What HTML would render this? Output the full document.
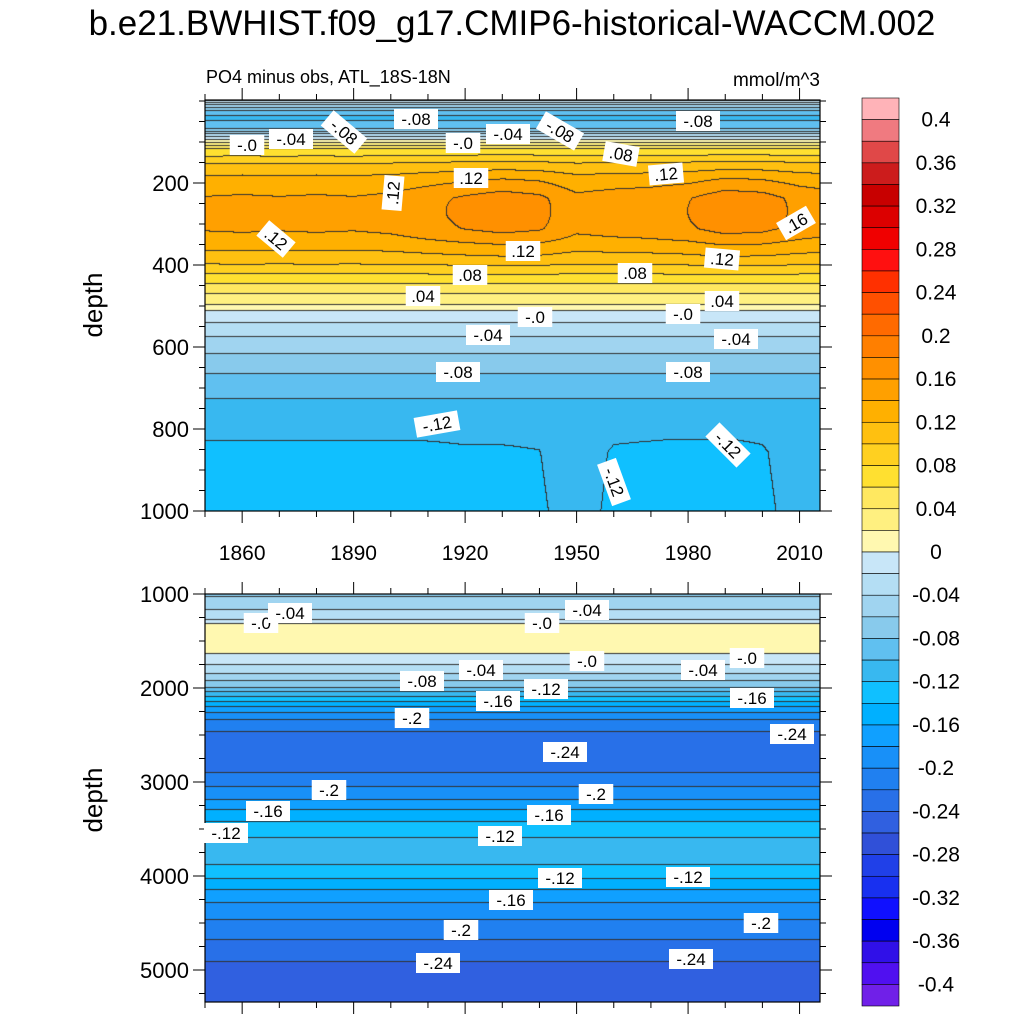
<!DOCTYPE html>
<html><head><meta charset="utf-8">
<style>
body{margin:0;background:#fff;width:1024px;height:1024px;overflow:hidden;font-family:"Liberation Sans",sans-serif;}
#root{position:relative;width:1024px;height:1024px;}
canvas{position:absolute;}
svg{position:absolute;left:0;top:0;}
</style></head>
<body>
<div id="root">
<canvas id="c1" width="615" height="411" style="left:205px;top:100px"></canvas>
<canvas id="c2" width="615" height="408" style="left:205px;top:594px"></canvas>
<svg id="svg" width="1024" height="1024"></svg>
</div>
<script>
// ---- data ----
const colors = ["#ffb3b8","#f07a80","#e04848","#cc1c1c","#c80000","#dc0000","#f00000","#ff1010","#ff3000","#ff5000","#ff6a00","#ff7f00","#ff9000","#ffa000","#ffb000","#ffc010","#ffd020","#ffe030","#ffe860","#fff080","#fff8b0","#c8e6f8","#b4def4","#a0d4f0","#88caec","#60c0f0","#38b8f0","#10c0ff","#00b0ff","#10a0ff","#1890f8","#2080f0","#2870e8","#3060e0","#3050d8","#2040e8","#1830f0","#1010ff","#0000f0","#3010e8","#5010f0","#7020e8"];
const cbLabels = ["0.4","0.36","0.32","0.28","0.24","0.2","0.16","0.12","0.08","0.04","0","-0.04","-0.08","-0.12","-0.16","-0.2","-0.24","-0.28","-0.32","-0.36","-0.4"];
const yearTicks = [1860,1890,1920,1950,1980,2010];
const topDepthTicks = [200,400,600,800,1000];
const botDepthTicks = [1000,2000,3000,4000,5000];
// upper panel profile
const topDepths = [0,10,30,45,70,95,120,155,190,240,315,340,390,425,460,500,515,560,595,645,680,730,780,830,1000];
const topValues = [0.005,-0.03,-0.09,-0.105,-0.085,-0.005,0.06,0.1,0.125,0.145,0.145,0.135,0.11,0.08,0.05,0.02,0.0,-0.03,-0.05,-0.07,-0.085,-0.1,-0.11,-0.116,-0.118];
const anomYears = [1850,1860,1870,1880,1890,1900,1910,1920,1930,1940,1950,1960,1970,1980,1990,2000,2010,2015];
const coreAnom = [-0.004,-0.002,-0.004,-0.002,-0.004,0.0,0.01,0.02,0.028,0.022,0.0,0.005,0.008,0.015,0.03,0.026,0.01,0.006];
const deepAnom = [-0.006,-0.006,-0.006,-0.006,-0.006,-0.006,-0.006,-0.005,-0.005,-0.004,0.004,-0.005,-0.006,-0.007,-0.007,-0.005,0.003,0.004];
// lower panel profile
const botDepths = [1000,1170,1280,1330,1500,1600,1700,1810,1970,2070,2230,2340,2500,2700,2870,2980,3190,3350,3510,3720,3940,4150,4360,4570,4790,5050,5360];
const botValues = [-0.065,-0.04,-0.02,0.005,0.015,0.005,-0.01,-0.03,-0.07,-0.11,-0.17,-0.2,-0.225,-0.232,-0.225,-0.21,-0.18,-0.15,-0.13,-0.105,-0.125,-0.16,-0.19,-0.21,-0.23,-0.25,-0.258];

// ---- scales ----
const X0=205,X1=820,Y0min=1850,Y1max=2015.5;
const xs = y => X0 + (y - Y0min)/(Y1max-Y0min)*(X1-X0);
const ysTop = d => 101 + d*0.41;
const ysBot = d => 594 + (d-1000)*0.094;
function interp(xa,ya,x){
  if(x<=xa[0]) return ya[0];
  for(let i=1;i<xa.length;i++){ if(x<=xa[i]){const t=(x-xa[i-1])/(xa[i]-xa[i-1]);return ya[i-1]+t*(ya[i]-ya[i-1]);} }
  return ya[ya.length-1];
}
function hex(c){return [parseInt(c.substr(1,2),16),parseInt(c.substr(3,2),16),parseInt(c.substr(5,2),16)];}
const rgb = colors.map(hex);
function idx(v){let k=Math.floor((0.4-v)/0.02)+1;return Math.max(0,Math.min(41,k));}
function draw(cid,h,depthOf,field){
  const cv=document.getElementById(cid),ctx=cv.getContext('2d');
  const w=615,img=ctx.createImageData(w,h);
  const L=new Int16Array(w*h);
  for(let j=0;j<h;j++){const d=depthOf(j);for(let i=0;i<w;i++){const yr=Y0min+(i+0.5)/w*(Y1max-Y0min);L[j*w+i]=idx(field(yr,d));}}
  for(let j=0;j<h;j++)for(let i=0;i<w;i++){
    const k=L[j*w+i];let c=rgb[k];const p=(j*w+i)*4;
    if((i<w-1&&L[j*w+i+1]!==k)||(j<h-1&&L[(j+1)*w+i]!==k)) c=[50,50,50];
    img.data[p]=c[0];img.data[p+1]=c[1];img.data[p+2]=c[2];img.data[p+3]=255;}
  ctx.putImageData(img,0,0);
}
draw('c1',411,j=>(j+0.5)/0.41,(yr,d)=>{
  let v=interp(topDepths,topValues,d);
  const wc=Math.exp(-Math.pow((d-270)/90,2));
  const wd=Math.max(0,Math.min(1,(d-780)/80));
  return v+interp(anomYears,coreAnom,yr)*wc+interp(anomYears,deepAnom,yr)*wd;
});
draw('c2',408,j=>1000+(j+0.5)/0.094,(yr,d)=>interp(botDepths,botValues,d));

// ---- svg overlay ----
const svg=document.getElementById('svg');const NS='http://www.w3.org/2000/svg';
function el(t,a,parent){const e=document.createElementNS(NS,t);for(const k in a)e.setAttribute(k,a[k]);(parent||svg).appendChild(e);return e;}
function txt(x,y,s,size,anchor,name,extra){const e=el('text',Object.assign({x:x,y:y,'font-size':size,'text-anchor':anchor||'middle','font-family':'Liberation Sans, sans-serif',fill:'#000'},extra||{}));e.textContent=s;return e;}
txt(512,35,'b.e21.BWHIST.f09_g17.CMIP6-historical-WACCM.002',35,'middle','main-title');
txt(206,83,'PO4 minus obs, ATL_18S-18N',18,'start','subtitle');
txt(820,86,'mmol/m^3',19,'end','units-label');
txt(93,305,'depth',26,'middle','y-axis-title-top',{transform:'rotate(-90 93 305)',dy:'9'});
txt(93,800,'depth',26,'middle','y-axis-title-bottom',{transform:'rotate(-90 93 800)',dy:'9'});

function frame(top,bot,ys,majors,minors,label,yName){
  const r=el('rect',{x:X0,y:top,width:X1-X0,height:bot-top,fill:'none',stroke:'#000','stroke-width':1.2});
  
  for(let yr=1850;yr<=2015;yr+=10){const x=xs(yr);const maj=yearTicks.includes(yr);const len=maj?12:6;
    el('line',{x1:x,x2:x,y1:bot,y2:bot+len,stroke:'#000','stroke-width':1});
    el('line',{x1:x,x2:x,y1:top,y2:top-len,stroke:'#000','stroke-width':1});}
  if(label) yearTicks.forEach(yr=>txt(xs(yr),560,String(yr),21,'middle','x-tick-'+yr));
  minors.forEach(d=>{const y=ys(d);if(y<top-0.5||y>bot+0.5)return;const maj=majors.includes(d);const len=maj?12:6;
    el('line',{x1:X0,x2:X0-len,y1:y,y2:y,stroke:'#000','stroke-width':1});
    el('line',{x1:X1,x2:X1+len,y1:y,y2:y,stroke:'#000','stroke-width':1});});
  majors.forEach(d=>txt(X0-16,ys(d)+8,String(d),22,'end',yName+'-tick-'+d));
}
const m1=[];for(let d=0;d<=1000;d+=50)m1.push(d);
const m2=[];for(let d=1000;d<=5250;d+=250)m2.push(d);
frame(100,511,ysTop,topDepthTicks,m1,true,'upper-y');
frame(594,1002,ysBot,botDepthTicks,m2,false,'lower-y');

// contour labels
const labels=[
[247,145,'-.0',0],[291,139,'-.04',0],[344,132,'-.08',40],[416,119,'-.08',0],[463,143,'-.0',0],[508,134,'-.04',0],[560,131,'-.08',30],[621,154,'.08',10],[698,121,'-.08',0],[666,174,'.12',-5],[471,178,'.12',0],[393,193,'.12',-85],[276,239,'.12',40],[796,223,'.16',-30],
[523,251,'.12',0],[722,259,'.12',5],[470,275,'.08',0],[635,273,'.08',0],[423,296,'.04',0],[722,301,'.04',0],[535,317,'-.0',0],[683,314,'-.0',0],[488,335,'-.04',0],[736,339,'-.04',0],[458,372,'-.08',0],[688,372,'-.08',0],[437,424,'-.12',-10],[728,445,'-.12',45],[614,482,'-.12',70],
[261,623,'-.0',0],[290,613,'-.04',0],[542,623,'-.0',0],[587,610,'-.04',0],[587,661,'-.0',0],[747,658,'-.0',0],[422,681,'-.08',0],[481,670,'-.04',0],[703,670,'-.04',0],[546,689,'-.12',0],[498,701,'-.16',0],[752,698,'-.16',0],[412,718,'-.2',0],[792,734,'-.24',0],[565,752,'-.24',0],[329,790,'-.2',0],[596,794,'-.2',0],[268,811,'-.16',0],[549,815,'-.16',0],[226,833,'-.12',0],[500,836,'-.12',0],[560,878,'-.12',0],[688,877,'-.12',0],[511,900,'-.16',0],[461,930,'-.2',0],[761,923,'-.2',0],[438,963,'-.24',0],[691,959,'-.24',0]
];
labels.forEach(([x,y,s,a])=>{
  const g=el('g',{transform:`translate(${x} ${y}) rotate(${a})`});
  
  const w=s.length*9.5+6;
  el('rect',{x:-w/2,y:-10,width:w,height:20,fill:'#fff'},g);
  const t=el('text',{x:0,y:6,'font-size':17,'text-anchor':'middle','font-family':'Liberation Sans, sans-serif'},g);t.textContent=s;});

// colorbar
const cb=el('g',{});
const CB0=98,CBH=908/42;
colors.forEach((c,i)=>{const r=el('rect',{x:862,y:CB0+i*CBH,width:37,height:CBH,fill:c,stroke:'#000','stroke-width':0.6},cb);
  });
cbLabels.forEach((s,i)=>txt(936,CB0+(1+2*i)*CBH+7,s,21,'middle','colorbar-label'));
</script>
</body></html>
